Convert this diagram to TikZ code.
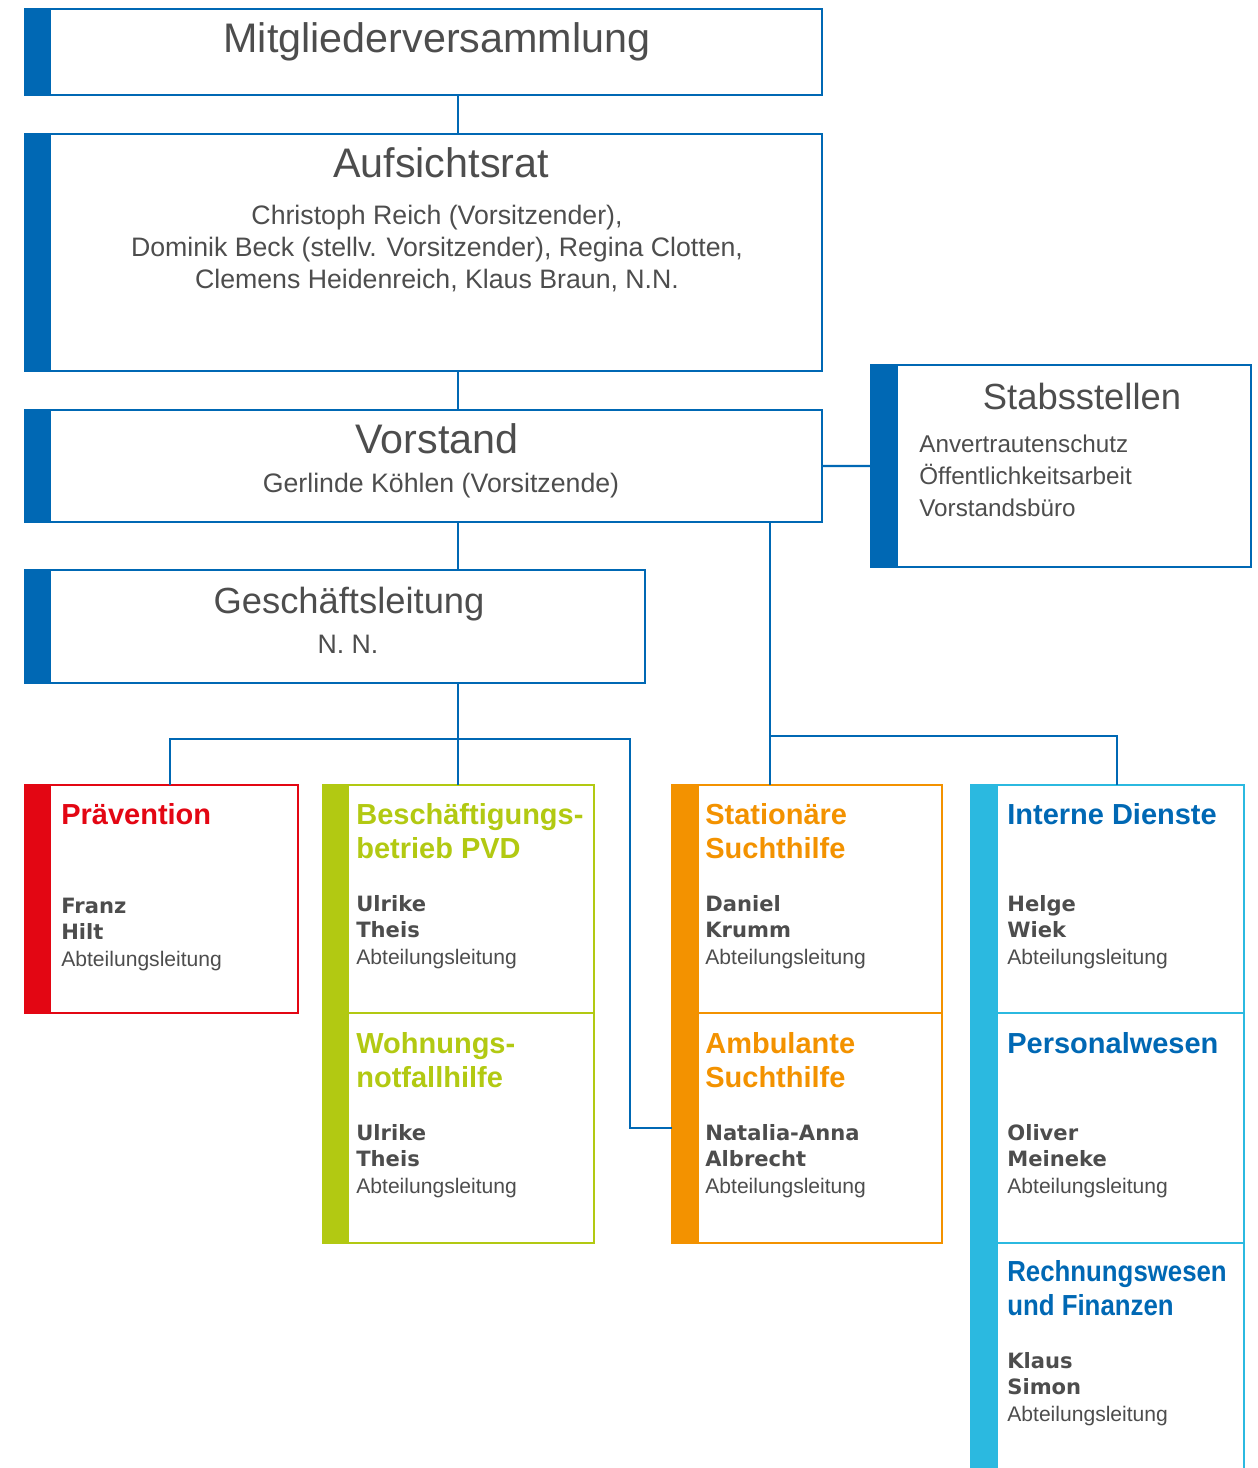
\documentclass[tikz,border=0pt]{standalone}
\usepackage{fontspec}
\setmainfont{Liberation Sans}
\newfontfamily\namefont{DejaVu Sans}
\newfontfamily\condfont[FakeStretch=0.89]{Liberation Sans}
\definecolor{vblue}{HTML}{0068B4}
\definecolor{vred}{HTML}{E30613}
\definecolor{vgreen}{HTML}{B2C912}
\definecolor{vorange}{HTML}{F39200}
\definecolor{vcyan}{HTML}{2BB9E0}
\definecolor{txtgray}{HTML}{4D4D4D}
\newcommand{\pname}[1]{{\namefont\bfseries #1}}
\begin{document}
\begin{tikzpicture}[x=0.02cm,y=-0.02cm,
  every node/.style={text=txtgray,inner sep=0pt},
  unit/.style={draw=#1,line width=1.4pt,outer sep=0pt,anchor=north west,path picture={\fill[#1] (path picture bounding box.north west) rectangle ([xshift=0.53cm]path picture bounding box.south west);}},
  head/.style={font=\fontsize{23.5pt}{28pt}\selectfont,anchor=base},
  subhead/.style={font=\fontsize{20.7pt}{25pt}\selectfont,anchor=base},
  body/.style={font=\fontsize{15.2pt}{18.1pt}\selectfont,align=center,anchor=base},
  list/.style={font=\fontsize{13.8pt}{18.1pt}\selectfont,align=left,anchor=base west},
  dept/.style={font=\fontsize{16.5pt}{19.3pt}\selectfont\bfseries,text=#1,align=left,anchor=base west},
  person/.style={font=\fontsize{12pt}{15pt}\selectfont,align=left,anchor=base west},
  link/.style={draw=vblue,line width=1.4pt}]
\useasboundingbox (0,0) rectangle (1258,1468);
\clip (0,0) rectangle (1258,1468);
\node[unit=vblue,minimum width=15.94cm,minimum height=1.72cm] (mv) at (25,9) {};
\node[unit=vblue,minimum width=15.94cm,minimum height=4.74cm] (ar) at (25,134) {};
\node[unit=vblue,minimum width=15.94cm,minimum height=2.24cm] (vs) at (25,410) {};
\node[unit=vblue,minimum width=7.6cm,minimum height=4.04cm] (sb) at (871,365) {};
\node[unit=vblue,minimum width=12.4cm,minimum height=2.26cm] (gl) at (25,570) {};
\node[unit=vred,minimum width=5.46cm,minimum height=4.56cm] (prae) at (25,785) {};
\node[unit=vgreen,minimum width=5.42cm,minimum height=4.56cm] (besch) at (323,785) {};
\node[unit=vgreen,minimum width=5.42cm,minimum height=4.6cm] (wohn) at (323,1013) {};
\node[unit=vorange,minimum width=5.4cm,minimum height=4.56cm] (stat) at (672,785) {};
\node[unit=vorange,minimum width=5.4cm,minimum height=4.6cm] (amb) at (672,1013) {};
\node[unit=vcyan,minimum width=5.46cm,minimum height=4.56cm] (intern) at (971,785) {};
\node[unit=vcyan,minimum width=5.46cm,minimum height=4.6cm] (pers) at (971,1013) {};
\node[unit=vcyan,minimum width=5.46cm,minimum height=5cm] (rech) at (971,1243) {};
\node[head] (mvT) at (437,52) {Mitgliederversammlung};
\node[head] (arT) at (441,177) {Aufsichtsrat};
\node[body] (arL) at (437,288) {Christoph Reich (Vorsitzender),\\Dominik Beck (stellv. Vorsitzender), Regina Clotten,\\Clemens Heidenreich, Klaus Braun, N.N.};
\node[head] (vsT) at (437,453) {Vorstand};
\node[body] (vsL) at (441,492) {Gerlinde Köhlen (Vorsitzende)};
\node[subhead] (sbT) at (1082,409) {Stabsstellen};
\node[list] (sbL) at (919,516) {Anvertrautenschutz\\Öffentlichkeitsarbeit\\Vorstandsbüro};
\node[subhead] (glT) at (349,613) {Geschäftsleitung};
\node[body] (glL) at (348,653) {N. N.};
\node[dept=vred] (praeT) at (61,824) {Prävention};
\node[person] (praeP) at (61,966) {\pname{Franz}\\\pname{Hilt}\\Abteilungsleitung};
\node[dept=vgreen] (beschT) at (356,858) {Beschäftigungs-\\betrieb PVD};
\node[person] (beschP) at (356,964) {\pname{Ulrike}\\\pname{Theis}\\Abteilungsleitung};
\node[dept=vgreen] (wohnT) at (356,1087) {Wohnungs-\\notfallhilfe};
\node[person] (wohnP) at (356,1193) {\pname{Ulrike}\\\pname{Theis}\\Abteilungsleitung};
\node[dept=vorange] (statT) at (705,858) {Stationäre\\Suchthilfe};
\node[person] (statP) at (705,964) {\pname{Daniel}\\\pname{Krumm}\\Abteilungsleitung};
\node[dept=vorange] (ambT) at (705,1087) {Ambulante\\Suchthilfe};
\node[person] (ambP) at (705,1193) {\pname{Natalia-Anna}\\\pname{Albrecht}\\Abteilungsleitung};
\node[dept=vblue] (internT) at (1007,824) {Interne Dienste};
\node[person] (internP) at (1007,964) {\pname{Helge}\\\pname{Wiek}\\Abteilungsleitung};
\node[dept=vblue] (persT) at (1007,1053) {Personalwesen};
\node[person] (persP) at (1007,1193) {\pname{Oliver}\\\pname{Meineke}\\Abteilungsleitung};
\node[dept=vblue,font=\fontsize{16.5pt}{19.3pt}\selectfont\condfont\bfseries] (rechT) at (1007,1315) {Rechnungswesen\\und Finanzen};
\node[person] (rechP) at (1007,1421) {\pname{Klaus}\\\pname{Simon}\\Abteilungsleitung};
\coordinate (gx) at (458,739);
\coordinate (lx) at (170,739);
\coordinate (rx) at (630,739);
\coordinate (vx) at (770,736);
\coordinate (ix) at (1117,736);
\draw[link] (mv.south -| gx) -- (ar.north -| gx);
\draw[link] (ar.south -| gx) -- (vs.north -| gx);
\draw[link] (vs.south -| gx) -- (gl.north -| gx);
\draw[link] (vs.east) -- (sb.west);
\draw[link] (gl.south -| gx) -- (besch.north -| gx);
\draw[link] (prae.north -| lx) |- (rx) |- (amb.west);
\draw[link] (vs.south -| vx) -- (stat.north -| vx);
\draw[link] (vx) -| (intern.north -| ix);
\end{tikzpicture}
\end{document}
